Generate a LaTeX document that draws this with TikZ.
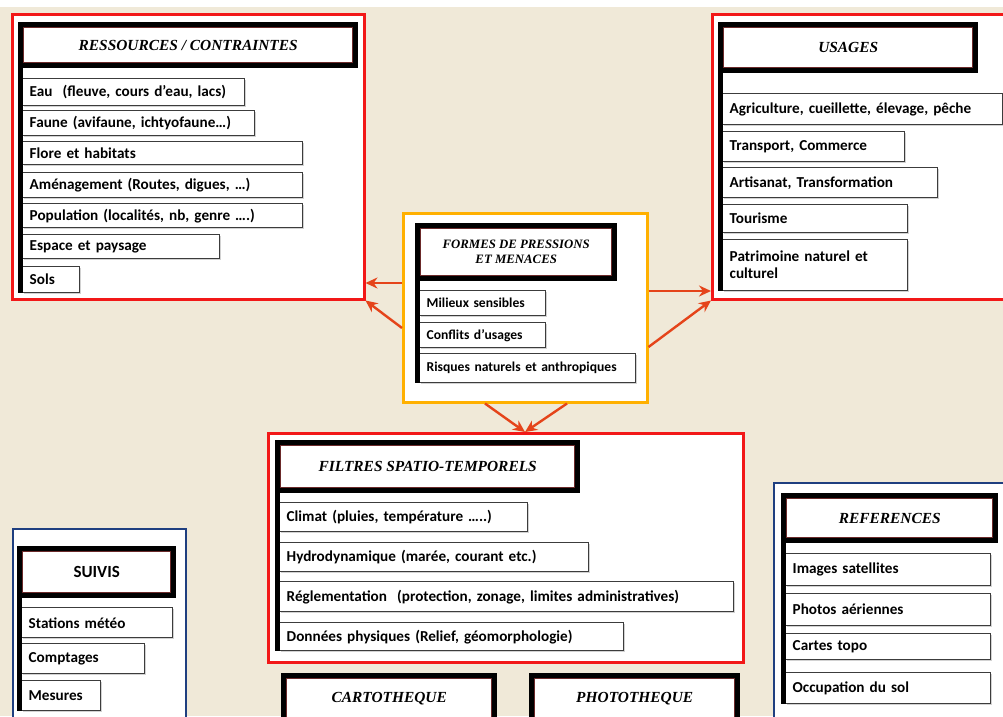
\documentclass[tikz,border=0pt]{standalone}
\usepackage{fontspec}
\setmainfont{Carlito}
\newfontfamily\ttlfont{Liberation Serif}
\usetikzlibrary{calc,arrows.meta,shadows}
\definecolor{bg}{HTML}{F0E9D8}
\definecolor{redf}{HTML}{F21818}
\definecolor{orgf}{HTML}{FFB000}
\definecolor{bluef}{HTML}{1F3F80}
\definecolor{arrc}{HTML}{E5441A}
\definecolor{ttlb}{HTML}{6B2A2A}
\definecolor{itb}{HTML}{3C3C3C}
\newcommand\rbox[6]{%
  \pgfmathsetmacro\bw{#5-#3}\pgfmathsetmacro\bh{#6-#4}%
  \node[#1, minimum width=\bw pt, minimum height=\bh pt, anchor=north west] (#2) at (#3,#4) {};}
\newcommand\ttl[7]{%
  \rbox{tfouter}{#1o}{#2}{#3}{#4}{#5}%
  \pgfmathsetmacro\iw{#4-#2-11}\pgfmathsetmacro\ih{#5-#3-11}%
  \node[tfinner, #6, minimum width=\iw pt, minimum height=\ih pt] (#1) at (#1o.center) {#7};}
\newcommand\itm[7][]{%
  \pgfmathsetmacro\tw{#5-#3-14}\pgfmathsetmacro\ih{#6-#4}%
  \node[itm, #1, text width=\tw pt, minimum height=\ih pt] (#2) at (#3,#4) {#7};}
\newcommand\lbar[2]{%
  \fill[black] (#1o.south west) rectangle ($(#1o.south west |- #2.south)+(5,0)$);}
\begin{document}
\begin{tikzpicture}[x=1pt,y=-1pt,
  frame/.style={draw=#1, line width=2.5pt, fill=white, inner sep=0pt},
  tfouter/.style={fill=black, inner sep=0pt},
  tfinner/.style={fill=white, draw=ttlb, line width=1.5pt, inner sep=0pt, align=center,
    font=\ttlfont\bfseries\itshape\fontsize{15.4}{17}\selectfont},
  itm/.style={draw=itb, line width=1.4pt, fill=white, inner xsep=7pt, inner ysep=0pt,
    align=left, anchor=north west, font=\bfseries\fontsize{15.2}{17}\selectfont,
    drop shadow={shadow xshift=1.2pt, shadow yshift=-1.2pt, opacity=0.35}},
  small/.style={font=\bfseries\fontsize{13.6}{16}\selectfont},
  link/.style={draw=arrc, line width=2.4pt, -{Stealth[length=12pt,width=11pt]}},
]
\useasboundingbox (0,0) rectangle (1003,716);
\clip (0,0) rectangle (1003,716);
\fill[bg] (0,0) rectangle (1003,716);
\fill[white] (0,0) rectangle (1003,7);

% RESSOURCES / CONTRAINTES
\rbox{frame=redf}{res}{11}{13}{363}{298}
\ttl{rest}{18}{22}{358}{68}{}{RESSOURCES / CONTRAINTES}
\itm{e1}{22}{78}{244}{105}{Eau\ \ (fleuve, cours d’eau, lacs)}
\itm{e2}{22}{110}{254}{135}{Faune (avifaune, ichtyofaune…)}
\itm{e3}{22}{141}{302}{164}{Flore et habitats}
\itm{e4}{22}{172}{302}{197}{Aménagement (Routes, digues, …)}
\itm{e5}{22}{203}{302}{227}{Population (localités, nb, genre ….)}
\itm{e6}{22}{234}{219}{258}{Espace et paysage}
\itm{e7}{22}{266}{79}{292}{Sols}
\lbar{rest}{e7}

% USAGES
\rbox{frame=redf}{usa}{711}{13}{1012}{298}
\ttl{usat}{718}{22}{978}{73}{}{USAGES}
\itm{u1}{722}{93}{1002}{124}{Agriculture, cueillette, élevage, pêche}
\itm{u2}{722}{131}{904}{161}{Transport, Commerce}
\itm{u3}{722}{167}{937}{197}{Artisanat, Transformation}
\itm{u4}{722}{204}{907}{232}{Tourisme}
\itm{u5}{722}{239}{907}{290}{Patrimoine naturel et\\culturel}
\lbar{usat}{u5}

% FORMES DE PRESSIONS ET MENACES
\rbox{frame=orgf}{frm}{402}{212}{646}{401}
\ttl{frmt}{415}{223}{617}{281}{font=\ttlfont\bfseries\itshape\fontsize{12.8}{15}\selectfont}{FORMES DE PRESSIONS\\ET MENACES}
\itm[small]{f1}{419}{290}{545}{315}{Milieux sensibles}
\itm[small]{f2}{419}{322}{545}{347}{Conflits d’usages}
\itm[small]{f3}{419}{353}{635}{382}{Risques naturels et anthropiques}
\lbar{frmt}{f3}

% FILTRES SPATIO-TEMPORELS
\rbox{frame=redf}{fil}{267}{432}{742}{661}
\ttl{filt}{275}{440}{580}{493}{}{FILTRES SPATIO-TEMPORELS}
\itm{t1}{279}{502}{527}{531}{Climat (pluies, température …..)}
\itm{t2}{279}{542}{588}{571}{Hydrodynamique (marée, courant etc.)}
\itm{t3}{279}{581}{733}{611}{Réglementation\ \ (protection, zonage, limites administratives)}
\itm{t4}{279}{622}{623}{650}{Données physiques (Relief, géomorphologie)}
\lbar{filt}{t4}

% SUIVIS
\rbox{frame=bluef, line width=2pt}{sui}{12}{528}{185}{725}
\ttl{suit}{17}{546}{176}{598}{font=\bfseries\fontsize{17}{19}\selectfont}{SUIVIS}
\itm{s1}{21}{607}{172}{637}{Stations météo}
\itm{s2}{21}{643}{144}{673}{Comptages}
\itm{s3}{21}{680}{100}{710}{Mesures}
\lbar{suit}{s3}

% REFERENCES
\rbox{frame=bluef, line width=2pt}{ref}{773}{482}{1012}{725}
\ttl{reft}{781}{493}{998}{543}{}{REFERENCES}
\itm{r1}{785}{553}{990}{585}{Images satellites}
\itm{r2}{785}{593}{990}{625}{Photos aériennes}
\itm{r3}{785}{633}{990}{659}{Cartes topo}
\itm{r4}{785}{672}{990}{703}{Occupation du sol}
\lbar{reft}{r4}

% CARTOTHEQUE / PHOTOTHEQUE
\ttl{cart}{281}{673}{497}{723}{}{CARTOTHEQUE}
\ttl{phot}{529}{673}{740}{723}{}{PHOTOTHEQUE}

% connectors
\draw[link] (frm.west |- 0,283) -- (res.east |- 0,283);
\draw[link] (frm.west |- 0,328) -- (res.south east);
\draw[link] (frm.east |- 0,291) -- (usa.west |- 0,291);
\draw[link] (frm.east |- 0,347) -- (usa.south west);
\draw[link] (frm.south -| 485,0) -- (fil.north -| 525,0);
\draw[link] (frm.south -| 567,0) -- (fil.north -| 525,0);
\end{tikzpicture}
\end{document}
